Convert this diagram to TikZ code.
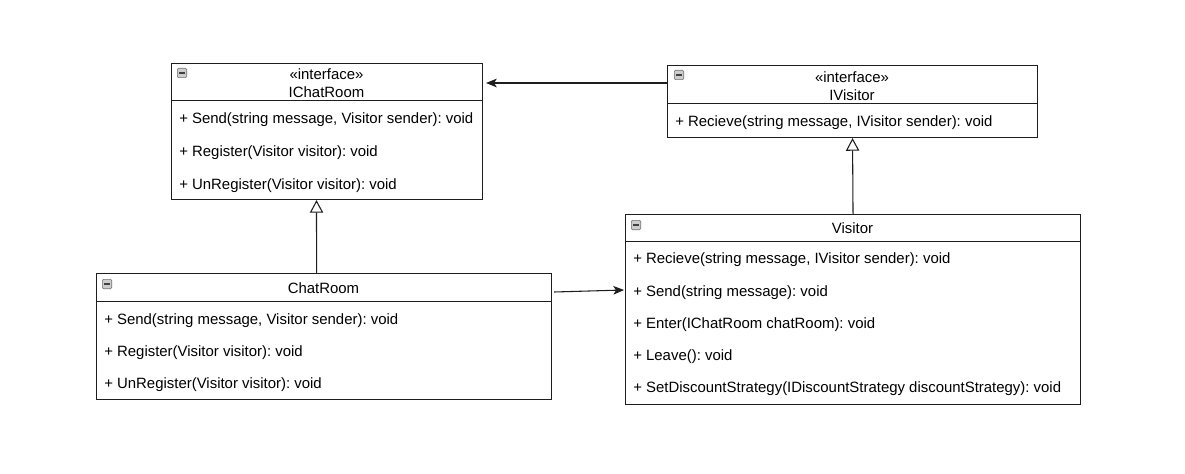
\documentclass[tikz,border=0pt]{standalone}
\usepackage{fontspec}
\setmainfont{Liberation Sans}
\usetikzlibrary{arrows.meta}
\frenchspacing
\definecolor{iconfill}{RGB}{205,205,205}
\definecolor{iconline}{RGB}{110,110,110}
\definecolor{linecol}{RGB}{30,30,30}
\tikzset{
  umlbox/.style={draw=linecol, line width=0.8pt, anchor=north west, inner sep=0pt, fill=white},
  divline/.style={draw=linecol, line width=0.75pt},
  member/.style={anchor=west, inner sep=0pt, yshift=-1.5pt, font=\fontsize{11.2pt}{12.6pt}\selectfont\frenchspacing, text=black},
  title/.style={anchor=center, inner sep=0pt, font=\fontsize{11.2pt}{13.5pt}\selectfont, text=black, align=center},
  icon/.style={draw=iconline, fill=iconfill, line width=0.5pt, minimum size=7pt, inner sep=0pt, rounded corners=0.8pt, anchor=center,
    path picture={\draw[line width=1pt, black!75] ([xshift=1.5pt]path picture bounding box.west) -- ([xshift=-1.5pt]path picture bounding box.east);}},
  dep/.style={draw=linecol, line width=0.8pt, -{Stealth[length=8pt, width=6.5pt, inset=2pt]}},
  gen/.style={draw=linecol, line width=0.8pt, -{Triangle[open, length=9.5pt, width=10pt, fill=white]}}
}
\begin{document}
\begin{tikzpicture}[x=0.75pt, y=-0.75pt]
\useasboundingbox (0,0) rectangle (1185,474);

% IChatRoom
\node[umlbox, minimum width=233.25pt, minimum height=102pt] (ic) at (171,63) {};
\draw[divline] (171,101) -- (482,101);
\node[icon] (icI) at (182,73) {};
\node[title] (icT) at (326.5,83.5) {«interface»\\IChatRoom};
\node[member] (ic1) at (179,118) {+ Send(string message, Visitor sender): void};
\node[member] (ic2) at (179,151) {+ Register(Visitor visitor): void};
\node[member] (ic3) at (179,184) {+ UnRegister(Visitor visitor): void};

% IVisitor
\node[umlbox, minimum width=277.5pt, minimum height=54pt] (iv) at (667,65) {};
\draw[divline] (667,104) -- (1037,104);
\node[icon] (ivI) at (679,75) {};
\node[title] (ivT) at (852,86) {«interface»\\IVisitor};
\node[member] (iv1) at (675,121) {+ Recieve(string message, IVisitor sender): void};

% ChatRoom
\node[umlbox, minimum width=341.25pt, minimum height=94.5pt] (cr) at (96,273) {};
\draw[divline] (96,301) -- (551,301);
\node[icon] (crI) at (107,284) {};
\node[title] (crT) at (323.5,288.5) {ChatRoom};
\node[member] (cr1) at (104,319) {+ Send(string message, Visitor sender): void};
\node[member] (cr2) at (104,351) {+ Register(Visitor visitor): void};
\node[member] (cr3) at (104,383) {+ UnRegister(Visitor visitor): void};

% Visitor
\node[umlbox, minimum width=341.25pt, minimum height=142.5pt] (vi) at (625,214) {};
\draw[divline] (625,241) -- (1080,241);
\node[icon] (viI) at (636,225) {};
\node[title] (viT) at (852.5,228.5) {Visitor};
\node[member] (vi1) at (633,258) {+ Recieve(string message, IVisitor sender): void};
\node[member] (vi2) at (633,291) {+ Send(string message): void};
\node[member] (vi3) at (633,323) {+ Enter(IChatRoom chatRoom): void};
\node[member] (vi4) at (633,355) {+ Leave(): void};
\node[member] (vi5) at (633,387) {+ SetDiscountStrategy(IDiscountStrategy discountStrategy): void};

% connectors
\draw[dep] ([yshift=-13.5pt]iv.north west) -- ([shift={(2.25pt,-15pt)}]ic.north east);
\draw[gen] ([xshift=-5.6pt]cr.north) -- ([xshift=-7.9pt]ic.south);
\draw[gen] (vi.north) -- (iv.south);
\draw[dep] ([shift={(1.5pt,-14.25pt)}]cr.north east) -- ([shift={(-0.75pt,-57pt)}]vi.north west);
\end{tikzpicture}
\end{document}
